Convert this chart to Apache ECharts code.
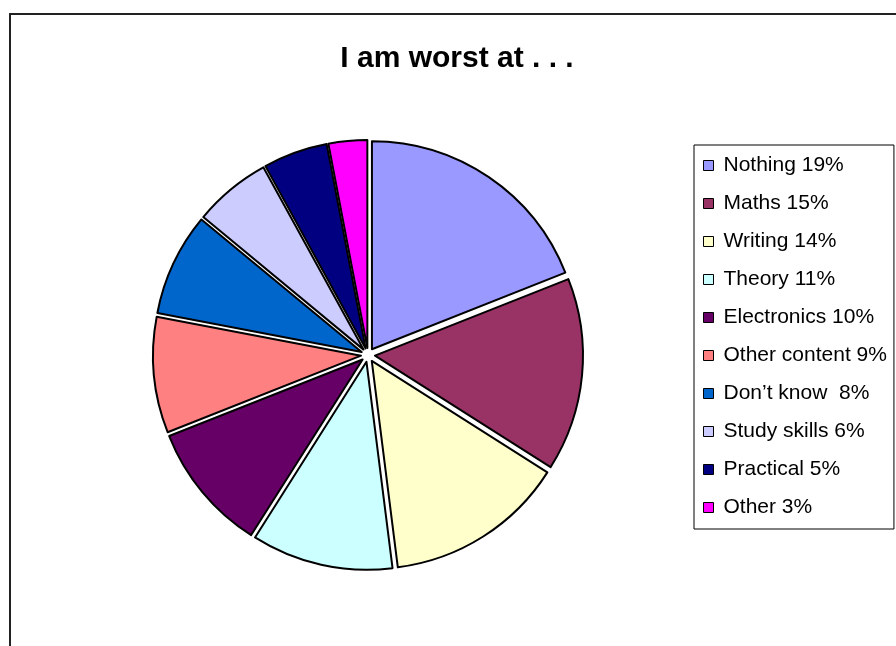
<!DOCTYPE html>
<html>
<head>
<meta charset="utf-8">
<script src="https://cdn.jsdelivr.net/npm/echarts@6/dist/echarts.min.js"></script>
<style>
  html, body { margin: 0; padding: 0; background: #fff; }
  #main { width: 896px; height: 646px; }
</style>
</head>
<body>
<div id="main"></div>
<script>
var categories = ["Nothing", "Maths", "Writing", "Theory", "Electronics", "Other content", "Don\u2019t know ", "Study skills", "Practical", "Other"];
var values = [19, 15, 14, 11, 10, 9, 8, 6, 5, 3];
var colors = ["#9999FF", "#993366", "#FFFFCC", "#CCFFFF", "#660066", "#FF8080", "#0066CC", "#CCCCFF", "#000080", "#FF00FF"];

var pieData = categories.map((name, i) => ({
  name: name,
  value: values[i],
  selected: true,
  itemStyle: { color: colors[i] }
}));

var myChart = echarts.init(document.getElementById("main"));
var option = {
  animation: false,
  backgroundColor: "#fff",
  title: {
    text: "I am worst at . . .",
    left: 452,
    top: 39,
    textAlign: "center",
    textStyle: {
      fontFamily: "Liberation Sans, Arial, sans-serif",
      fontWeight: "bold",
      fontSize: 30,
      color: "#000"
    }
  },
  graphic: [
    {
      type: "rect",
      shape: { x: 10, y: 14, width: 1000, height: 1000 },
      style: { fill: "none", stroke: "#222", lineWidth: 2 },
      silent: true
    }
  ],
  legend: {
    orient: "vertical",
    left: 694,
    top: 145,
    padding: [10, 7, 11, 9],
    itemGap: 17,
    itemWidth: 10,
    itemHeight: 10,
    icon: "rect",
    borderColor: "#000",
    borderWidth: 1,
    selectedMode: false,
    data: categories,
    itemStyle: { borderColor: "#000", borderWidth: 1 },
    formatter: name => name + " " + values[categories.indexOf(name)] + "%",
    textStyle: {
      fontFamily: "Liberation Sans, Arial, sans-serif",
      fontSize: 21,
      lineHeight: 20,
      color: "#000",
      padding: [0, 0, 0, 5]
    }
  },
  series: [
    {
      type: "pie",
      center: [368, 355],
      radius: 208,
      startAngle: 90,
      clockwise: true,
      selectedMode: "multiple",
      selectedOffset: 7,
      label: { show: false },
      labelLine: { show: false },
      emphasis: { disabled: true },
      itemStyle: { borderColor: "#000", borderWidth: 2 },
      data: pieData
    }
  ]
};
myChart.setOption(option);
</script>
</body>
</html>
